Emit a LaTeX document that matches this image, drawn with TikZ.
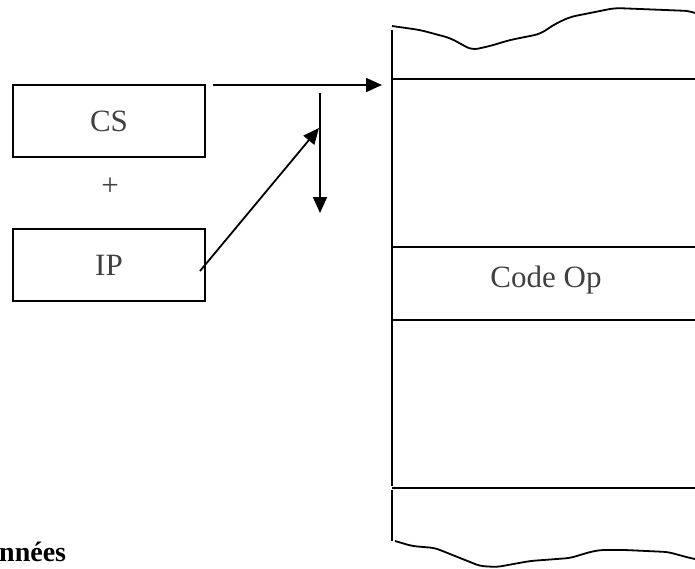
\documentclass[tikz,border=0pt]{standalone}
\usepackage{fontspec}
\setmainfont{Liberation Serif}
\usetikzlibrary{arrows.meta}
\begin{document}
\begin{tikzpicture}[x=1pt,y=-1pt,
  regbox/.style={draw=black,line width=1.4pt,minimum width=192pt,minimum height=72pt,inner sep=0pt,text=black!75,font=\fontsize{31}{32}\selectfont},
  lbl/.style={text=black!75,font=\fontsize{31}{32}\selectfont,inner sep=0pt},
  memline/.style={line width=1.8pt},
  arr/.style={line width=1.8pt,-{Triangle[length=16pt,width=14pt]}}]
\useasboundingbox (0,0) rectangle (695,568);
\node[regbox] (cs) at (109,121) {CS};
\node[lbl] (plus) at (110,187) {+};
\node[regbox] (ip) at (109,265) {IP};
% memory column
\draw[memline] (392,30) -- (392,486);
\draw[memline] (392,490) -- (392,541);
\draw[memline] (392,79) -- (695,79);
\draw[memline] (392,247) -- (695,247);
\draw[memline] (392,320) -- (695,320);
\draw[memline] (392,488) -- (695,488);
\draw[memline,rounded corners=6pt] (392,26) -- (420,30) -- (450,38) -- (472,50) -- (490,46) -- (510,40) -- (540,34) -- (555,24) -- (570,17) -- (615,8) -- (690,11) -- (695,13);
\draw[memline,rounded corners=5pt] (395,541) -- (412,546) -- (435,548) -- (460,558) -- (480,566) -- (497,567) -- (530,561) -- (570,558) -- (590,552) -- (600,550) -- (625,550) -- (668,552) -- (690,558) -- (695,559);
\node[lbl] (codeop) at (546,280) {Code Op};
\node[anchor=west,inner sep=0pt,font=\fontsize{28}{29}\selectfont\bfseries] (donnees) at (-1,552) {nnées};
% arrows
\coordinate (hstart) at (213,85);
\coordinate (hend) at (382,85);
\coordinate (vstart) at (320,93);
\coordinate (vend) at (320,213);
\coordinate (dstart) at (200,271);
\coordinate (dend) at (319,128);
\draw[arr] (hstart) -- (hend);
\draw[arr] (vstart) -- (vend);
\draw[arr] (dstart) -- (dend);
\end{tikzpicture}
\end{document}
